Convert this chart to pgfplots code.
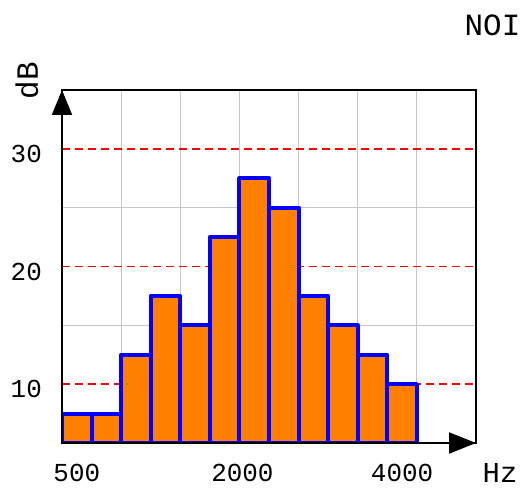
\documentclass[border=0pt]{standalone}
\usepackage{fontspec}
\setmainfont{Liberation Mono}
\usepackage{pgfplots}
\pgfplotsset{compat=1.18}
\usetikzlibrary{arrows.meta}
\definecolor{barfill}{HTML}{FF8000}
\begin{document}
\begin{tikzpicture}[x=1bp,y=1bp]
\useasboundingbox (-62,-45) rectangle (460,443);
\begin{axis}[
  name=ax, at={(0,0)}, anchor=south west,
  scale only axis, width=414bp, height=353bp,
  xmin=0, xmax=14, ymin=5, ymax=35,
  xtick={0.5,6.1,11.5}, xticklabels={500,2000,4000},
  ytick={10,20,30}, yticklabels={10,20,30},
  minor xtick={2,4,...,12}, minor ytick={15,25},
  xmajorgrids=false, xminorgrids=true, ymajorgrids=true, yminorgrids=true,
  major tick length=0pt, minor tick length=0pt,
  minor grid style={black!22, line width=1bp},
  major grid style={red, dash pattern=on 8bp off 5bp, line width=1.5bp},
  axis line style={black, line width=1.3bp},
  tick label style={font=\fontsize{26}{30}\selectfont},
  xticklabel style={anchor=center, yshift=-30bp},
  yticklabel style={anchor=east, inner sep=0pt, xshift=-20bp, yshift=-5bp},
]
\addplot[ybar, bar width=1, fill=barfill, draw=blue, line width=4bp, line join=round]
  coordinates {(0.5,7.5) (1.5,7.5) (2.5,12.5) (3.5,17.5) (4.5,15) (5.5,22.5)
               (6.5,27.5) (7.5,25) (8.5,17.5) (9.5,15) (10.5,12.5) (11.5,10)};
\end{axis}
\draw[line width=2bp, -{Triangle[length=25bp,width=20bp]}] (ax.south west) -- (ax.north west);
\draw[line width=2bp, -{Triangle[length=27bp,width=21bp]}] (ax.south west) -- (ax.south east);
\node[font=\fontsize{31}{34}\selectfont] at (430.5,418) {NOI};
\node[font=\fontsize{29}{32}\selectfont, inner sep=0pt] at (438,-30) {Hz};
\node[rotate=90, font=\fontsize{31}{34}\selectfont] at (-35,362.5) {dB};
\end{tikzpicture}
\end{document}
